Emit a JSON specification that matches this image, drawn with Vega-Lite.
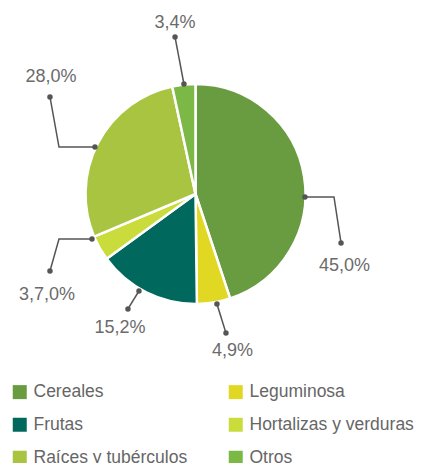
{
  "$schema": "https://vega.github.io/schema/vega-lite/v6.json",
  "width": 421,
  "height": 463,
  "autosize": "none",
  "padding": 0,
  "config": {
    "view": {"stroke": null},
    "font": "Liberation Sans, Arial, sans-serif"
  },
  "datasets": {
    "slices": [
      {"cat": "Cereales", "share": 45.0, "idx": 1},
      {"cat": "Leguminosa", "share": 4.9, "idx": 2},
      {"cat": "Frutas", "share": 15.2, "idx": 3},
      {"cat": "Hortalizas y verduras", "share": 3.7, "idx": 4},
      {"cat": "Raíces y tubérculos", "share": 28.0, "idx": 5},
      {"cat": "Otros", "share": 3.4, "idx": 6}
    ],
    "leaders": [
      {"cat": "Cereales", "pt": 1, "lx": 0.995, "ly": -0.027, "dot": 1},
      {"cat": "Cereales", "pt": 2, "lx": 1.259, "ly": -0.027, "dot": 0},
      {"cat": "Cereales", "pt": 3, "lx": 1.323, "ly": -0.445, "dot": 1},
      {"cat": "Leguminosa", "pt": 1, "lx": 0.195, "ly": -1.0, "dot": 1},
      {"cat": "Leguminosa", "pt": 2, "lx": 0.277, "ly": -1.264, "dot": 1},
      {"cat": "Frutas", "pt": 1, "lx": -0.514, "ly": -0.882, "dot": 1},
      {"cat": "Frutas", "pt": 2, "lx": -0.614, "ly": -1.045, "dot": 1},
      {"cat": "Hortalizas y verduras", "pt": 1, "lx": -0.941, "ly": -0.409, "dot": 1},
      {"cat": "Hortalizas y verduras", "pt": 2, "lx": -1.241, "ly": -0.409, "dot": 0},
      {"cat": "Hortalizas y verduras", "pt": 3, "lx": -1.323, "ly": -0.7, "dot": 1},
      {"cat": "Raíces y tubérculos", "pt": 1, "lx": -0.914, "ly": 0.427, "dot": 1},
      {"cat": "Raíces y tubérculos", "pt": 2, "lx": -1.241, "ly": 0.427, "dot": 0},
      {"cat": "Raíces y tubérculos", "pt": 3, "lx": -1.323, "ly": 0.882, "dot": 1},
      {"cat": "Otros", "pt": 1, "lx": -0.105, "ly": 1.0, "dot": 1},
      {"cat": "Otros", "pt": 2, "lx": -0.186, "ly": 1.427, "dot": 1}
    ],
    "labels": [
      {"cat": "Cereales", "txt": "45,0%", "lx": 1.355, "ly": -0.659},
      {"cat": "Leguminosa", "txt": "4,9%", "lx": 0.336, "ly": -1.425},
      {"cat": "Frutas", "txt": "15,2%", "lx": -0.686, "ly": -1.214},
      {"cat": "Hortalizas y verduras", "txt": "3,7,0%", "lx": -1.35, "ly": -0.914},
      {"cat": "Raíces y tubérculos", "txt": "28,0%", "lx": -1.314, "ly": 1.067},
      {"cat": "Otros", "txt": "3,4%", "lx": -0.186, "ly": 1.552}
    ]
  },
  "layer": [
    {
      "data": {"name": "slices"},
      "mark": {"type": "arc", "outerRadius": 110, "stroke": "white", "strokeWidth": 2.5},
      "encoding": {
        "theta": {"field": "share", "type": "quantitative", "stack": true},
        "order": {"field": "idx", "type": "quantitative"},
        "x": {"datum": 0, "type": "quantitative", "scale": {"domain": [-1.7773, 2.05], "nice": false, "zero": false}, "axis": null},
        "y": {"datum": 0, "type": "quantitative", "scale": {"domain": [-2.4455, 1.7636], "nice": false, "zero": false}, "axis": null},
        "color": {
          "field": "cat",
          "type": "nominal",
          "scale": {
            "domain": ["Cereales", "Frutas", "Raíces y tubérculos", "Leguminosa", "Hortalizas y verduras", "Otros"],
            "range": ["#699b40", "#00685c", "#a8c440", "#e1d823", "#c9dc3c", "#7cb845"]
          },
          "legend": {
            "title": null,
            "orient": "none",
            "legendX": 11,
            "legendY": 383,
            "columns": 2,
            "columnPadding": 39,
            "rowPadding": 14,
            "padding": 0,
            "symbolType": "square",
            "symbolSize": 196,
            "symbolStrokeWidth": 0,
            "labelFontSize": 17.5,
            "labelOffset": 5,
            "labelColor": "#666666",
            "labelLimit": 300
          }
        }
      }
    },
    {
      "data": {"name": "leaders"},
      "mark": {"type": "line", "color": "#555555", "strokeWidth": 1.5},
      "encoding": {
        "x": {"field": "lx", "type": "quantitative"},
        "y": {"field": "ly", "type": "quantitative"},
        "detail": {"field": "cat"},
        "order": {"field": "pt", "type": "quantitative"}
      }
    },
    {
      "data": {"name": "leaders"},
      "transform": [{"filter": "datum.dot == 1"}],
      "mark": {"type": "circle", "size": 30, "color": "#555555", "opacity": 1},
      "encoding": {
        "x": {"field": "lx", "type": "quantitative"},
        "y": {"field": "ly", "type": "quantitative"}
      }
    },
    {
      "data": {"name": "labels"},
      "mark": {"type": "text", "fontSize": 18, "color": "#6b6b6b", "align": "center", "baseline": "middle"},
      "encoding": {
        "x": {"field": "lx", "type": "quantitative"},
        "y": {"field": "ly", "type": "quantitative"},
        "text": {"field": "txt"}
      }
    }
  ]
}
